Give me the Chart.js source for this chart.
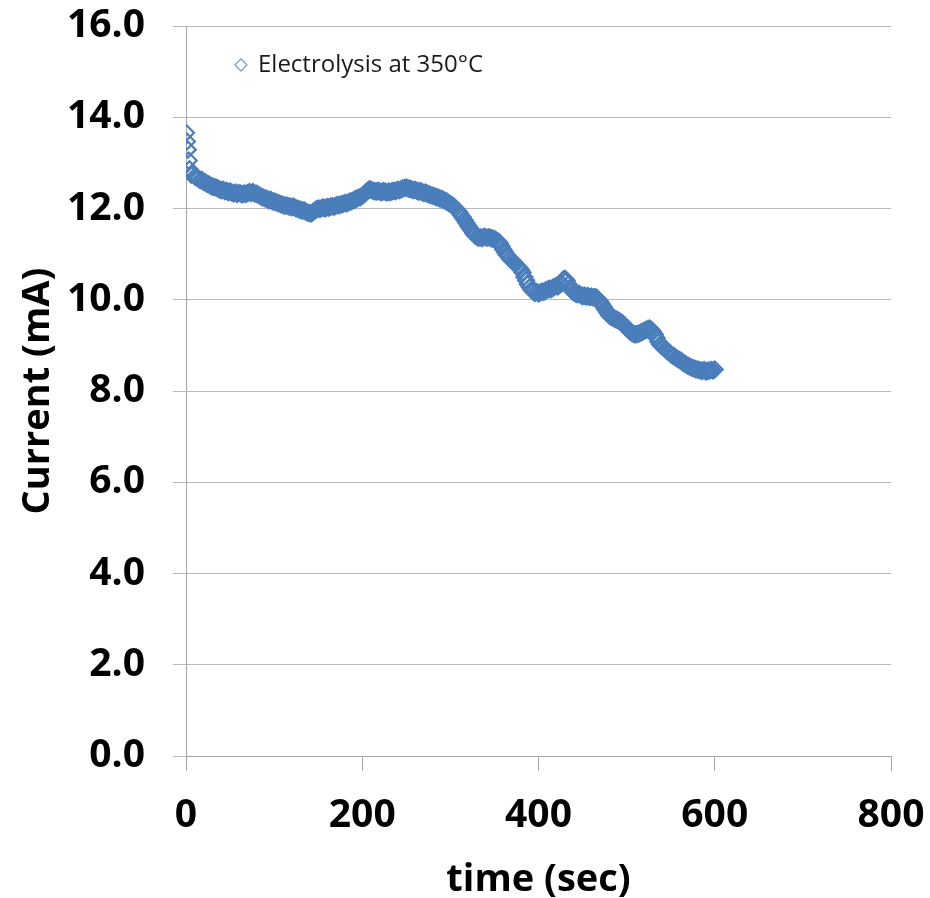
<!DOCTYPE html>
<html>
<head>
<meta charset="utf-8">
<title>Electrolysis current</title>
<script src="https://cdn.jsdelivr.net/npm/chart.js@4.4.1/dist/chart.umd.min.js"></script>
<style>
  html, body { margin: 0; padding: 0; background: #fff; }
  #wrap { width: 930px; height: 898px; }
</style>
</head>
<body>
<div id="wrap"><canvas id="myChart" width="930" height="898"></canvas></div>
<script>
// current readings during the run (time in sec, current in mA)
var seriesName = 'Electrolysis at 350°C';

// first readings right after switch-on, one per second
var startTime = [0, 1, 2, 3];
var startCurrent = [13.66, 13.47, 13.29, 13.05];

// after that one reading every 2 sec, from 4 s to 600 s
var logFirstSec = 4;
var logStepSec = 2;
var logCurrent = [
    12.86, 12.74, 12.76, 12.70, 12.68, 12.66, 12.62, 12.63, 12.58, 12.57,
    12.54, 12.53, 12.50, 12.48, 12.47, 12.46, 12.44, 12.42, 12.40, 12.41,
    12.38, 12.39, 12.36, 12.37, 12.35, 12.33, 12.35, 12.32, 12.34, 12.33,
    12.31, 12.33, 12.32, 12.34, 12.36, 12.34, 12.36, 12.33, 12.32, 12.30,
    12.28, 12.25, 12.24, 12.22, 12.21, 12.18, 12.19, 12.16, 12.15, 12.14,
    12.12, 12.11, 12.09, 12.08, 12.06, 12.07, 12.05, 12.04, 12.03, 12.04,
    12.01, 12.00, 11.98, 11.97, 11.95, 11.96, 11.93, 11.91, 11.90, 11.89,
    11.92, 11.95, 11.98, 12.00, 11.99, 12.01, 12.02, 12.00, 12.03, 12.02,
    12.04, 12.05, 12.04, 12.06, 12.08, 12.07, 12.09, 12.10, 12.12, 12.11,
    12.13, 12.15, 12.16, 12.18, 12.20, 12.22, 12.24, 12.25, 12.28, 12.31,
    12.35, 12.39, 12.42, 12.41, 12.39, 12.38, 12.37, 12.39, 12.37, 12.36,
    12.38, 12.37, 12.35, 12.37, 12.36, 12.38, 12.39, 12.38, 12.41, 12.40,
    12.42, 12.44, 12.45, 12.46, 12.44, 12.43, 12.42, 12.40, 12.41, 12.39,
    12.37, 12.38, 12.36, 12.34, 12.35, 12.32, 12.31, 12.29, 12.28, 12.27,
    12.25, 12.24, 12.22, 12.21, 12.19, 12.17, 12.15, 12.12, 12.10, 12.07,
    12.04, 12.00, 11.96, 11.92, 11.86, 11.81, 11.75, 11.69, 11.63, 11.57,
    11.52, 11.46, 11.41, 11.38, 11.36, 11.37, 11.35, 11.38, 11.37, 11.36,
    11.37, 11.35, 11.34, 11.33, 11.30, 11.28, 11.24, 11.17, 11.10, 11.04,
    10.98, 10.94, 10.89, 10.86, 10.82, 10.78, 10.74, 10.70, 10.66, 10.60,
    10.50, 10.42, 10.34, 10.28, 10.22, 10.18, 10.15, 10.17, 10.14, 10.16,
    10.18, 10.17, 10.20, 10.22, 10.24, 10.23, 10.26, 10.28, 10.30, 10.29,
    10.33, 10.36, 10.44, 10.46, 10.42, 10.34, 10.27, 10.20, 10.16, 10.14,
    10.12, 10.13, 10.10, 10.08, 10.09, 10.07, 10.08, 10.06, 10.07, 10.05,
    10.06, 10.04, 10.00, 9.96, 9.90, 9.84, 9.78, 9.72, 9.66, 9.63,
    9.61, 9.59, 9.57, 9.55, 9.53, 9.50, 9.47, 9.43, 9.39, 9.35,
    9.30, 9.27, 9.25, 9.24, 9.25, 9.26, 9.28, 9.30, 9.32, 9.34,
    9.36, 9.37, 9.34, 9.30, 9.24, 9.16, 9.08, 9.02, 8.98, 8.95,
    8.92, 8.88, 8.85, 8.81, 8.78, 8.76, 8.73, 8.70, 8.68, 8.66,
    8.62, 8.60, 8.57, 8.55, 8.53, 8.51, 8.50, 8.48, 8.47, 8.46,
    8.45, 8.44, 8.46, 8.43, 8.44, 8.45, 8.46, 8.45, 8.47
];

var xTicks = [0, 200, 400, 600, 800];
var yTicks = [0, 2, 4, 6, 8, 10, 12, 14, 16];

var fontFamily = '"Open Sans", "DejaVu Sans", sans-serif';
var blue = '#4a7ebb';

var points = startTime.map(function(t, i) {
    return { x: t, y: startCurrent[i] };
});
logCurrent.forEach(function(v, i) {
    points.push({ x: logFirstSec + i * logStepSec, y: v });
});

// legend box sits inside the plot, top left
const insideLegend = {
    id: 'insideLegend',
    afterDraw: function(chart) {
        var ctx = chart.ctx;
        var area = chart.chartArea;
        var cx = area.left + 55;
        var cy = area.top + 39;
        var r = 6;
        ctx.save();
        ctx.strokeStyle = '#7f9fd6';
        ctx.lineWidth = 1.3;
        ctx.beginPath();
        ctx.moveTo(cx - r, cy);
        ctx.lineTo(cx, cy - r);
        ctx.lineTo(cx + r, cy);
        ctx.lineTo(cx, cy + r);
        ctx.closePath();
        ctx.stroke();
        ctx.fillStyle = '#1a1a1a';
        ctx.font = '24px ' + fontFamily;
        ctx.textBaseline = 'middle';
        ctx.textAlign = 'left';
        ctx.fillText(chart.data.datasets[0].label, cx + 17, cy);
        ctx.restore();
    }
};

function drawChart() {
    var grapharea = document.getElementById('myChart');
    const data = {
        datasets: [{
            label: seriesName,
            data: points,
            showLine: false,
            pointStyle: 'rectRot',
            pointRadius: 8,
            borderWidth: 2.2,
            borderColor: blue,
            backgroundColor: 'rgba(0,0,0,0)'
        }]
    };
    const config = {
        type: 'scatter',
        data: data,
        options: {
            responsive: false,
            animation: false,
            layout: { padding: { top: 26, right: 39, left: 0, bottom: 0 } },
            plugins: {
                legend: { display: false },
                tooltip: { enabled: false }
            },
            scales: {
                x: {
                    type: 'linear',
                    min: 0,
                    max: 800,
                    afterBuildTicks: function(s) { s.ticks = xTicks.map(function(v) { return { value: v }; }); },
                    ticks: {
                        color: '#000',
                        padding: 21,
                        font: { family: fontFamily, size: 39, weight: 'bold' }
                    },
                    grid: { drawOnChartArea: false, drawTicks: true, tickLength: 15, color: '#a6a6a6' },
                    border: { color: '#a6a6a6' },
                    title: {
                        display: true,
                        text: 'time (sec)',
                        color: '#000',
                        padding: { top: 0, bottom: -5 },
                        font: { family: fontFamily, size: 38, weight: 'bold' }
                    },
                    afterFit: function(s) {
                        s.height = 142;
                        s.paddingLeft = 0;
                        s.paddingRight = 0;
                    }
                },
                y: {
                    min: 0,
                    max: 16,
                    afterBuildTicks: function(s) { s.ticks = yTicks.map(function(v) { return { value: v }; }); },
                    ticks: {
                        color: '#000',
                        padding: 28,
                        callback: function(v) { return v.toFixed(1); },
                        font: { family: fontFamily, size: 39, weight: 'bold' }
                    },
                    grid: { color: '#b8b8b8', tickLength: 13 },
                    border: { color: '#a6a6a6' },
                    title: {
                        display: true,
                        text: 'Current (mA)',
                        color: '#000',
                        padding: { top: 15, bottom: 0 },
                        font: { family: fontFamily, size: 38, weight: 'bold' }
                    },
                    afterFit: function(s) {
                        s.width = 186;
                        s.paddingTop = 0;
                        s.paddingBottom = 0;
                    }
                }
            }
        },
        plugins: [insideLegend]
    };
    const myChart = new Chart(grapharea, config);
}

drawChart();
</script>
</body>
</html>
